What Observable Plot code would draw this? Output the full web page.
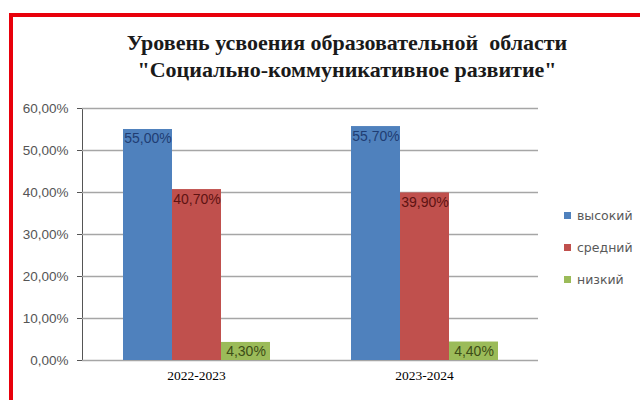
<!DOCTYPE html>
<html>
<head>
<meta charset="utf-8">
<script src="https://cdn.jsdelivr.net/npm/d3@7"></script>
<script src="https://cdn.jsdelivr.net/npm/@observablehq/plot@0.6"></script>
<style>
  html, body { margin: 0; padding: 0; background: #fff; width: 640px; height: 400px; overflow: hidden; }
  #frame { position: absolute; left: 9px; top: 13px; width: 700px; height: 500px;
           border-left: 4px solid #e8000b; border-top: 4px solid #e8000b; box-sizing: border-box; }
  .title { position: absolute; left: 0; width: 694px; text-align: center;
           font-family: "Liberation Serif", "Times New Roman", serif; font-weight: bold;
           font-size: 22px; color: #1a1a1a; white-space: pre; }
  #chart { position: absolute; left: 0; top: 95px; }
  #legend { position: absolute; left: 564px; top: 199px; font-family: "DejaVu Sans", sans-serif;
            font-size: 12.5px; color: #595959; }
  .item { display: flex; align-items: center; height: 32px; }
  .sw { width: 7px; height: 7px; margin-right: 6px; }
</style>
</head>
<body>
<div id="frame"></div>
<div class="title" id="t1" style="top:30px"></div>
<div class="title" id="t2" style="top:57px"></div>
<div id="chart"></div>
<div id="legend"></div>
<script>
const titleLines = ["Уровень усвоения образовательной  области", "\"Социально-коммуникативное развитие\""];
const years = ["2022-2023", "2023-2024"];
const levels = ["высокий", "средний", "низкий"];
const high = [55.0, 55.7];
const mid = [40.7, 39.9];
const low = [4.3, 4.4];
const yTicks = [0, 10, 20, 30, 40, 50, 60];
const barColors = ["#4f81bd", "#c0504d", "#9bbb59"];
const labelColors = ["#1f3d73", "#5e1312", "#3d4d17"];

const series = [high, mid, low];
const rows = [];
years.forEach((yr, i) => levels.forEach((lv, j) => rows.push({year: yr, level: lv, value: series[j][i]})));
const pct = v => v.toFixed(2).replace(".", ",") + "%";

document.getElementById("t1").textContent = titleLines[0];
document.getElementById("t2").textContent = titleLines[1];

const plot = Plot.plot({
  width: 640,
  height: 305,
  marginLeft: 82,
  marginRight: 102,
  marginTop: 13,
  marginBottom: 40,
  style: {fontFamily: "Liberation Sans, Arial, sans-serif", fontSize: "13.5px", color: "#555", background: "transparent"},
  fx: {domain: years, paddingInner: 0, paddingOuter: 0},
  x: {domain: levels, paddingInner: 0, paddingOuter: 0.78, axis: null},
  y: {domain: [0, 60], ticks: yTicks, tickFormat: pct, tickSize: 5, tickPadding: 9, line: true, label: null},
  color: {domain: levels, range: barColors},
  marks: [
    Plot.ruleY(yTicks, {stroke: "#a6a6a6", strokeWidth: 1.3}),
    Plot.barY(rows, {fx: "year", x: "level", y: "value", fill: "level"}),
    ...levels.map((lv, i) => Plot.text(rows.filter(r => r.level === lv), {
      fx: "year", x: "level", y: "value", text: d => pct(d.value),
      lineAnchor: "top", dy: 4, fill: labelColors[i], fontSize: 14,
      fontFamily: "Liberation Sans, Arial, sans-serif"
    })),
    Plot.axisFx({anchor: "bottom", tickSize: 0, tickPadding: 10, label: null,
      fontFamily: "Liberation Serif, Times New Roman, serif", fontSize: 13.5, color: "#000"})
  ]
});
document.getElementById("chart").appendChild(plot);

const color = plot.scale("color");
const legend = document.getElementById("legend");
color.domain.forEach((lv, i) => {
  const it = document.createElement("div");
  it.className = "item";
  const sw = document.createElement("div");
  sw.className = "sw";
  sw.style.background = color.range[i];
  const tx = document.createElement("span");
  tx.textContent = lv;
  it.appendChild(sw); it.appendChild(tx);
  legend.appendChild(it);
});
</script>
</body>
</html>
